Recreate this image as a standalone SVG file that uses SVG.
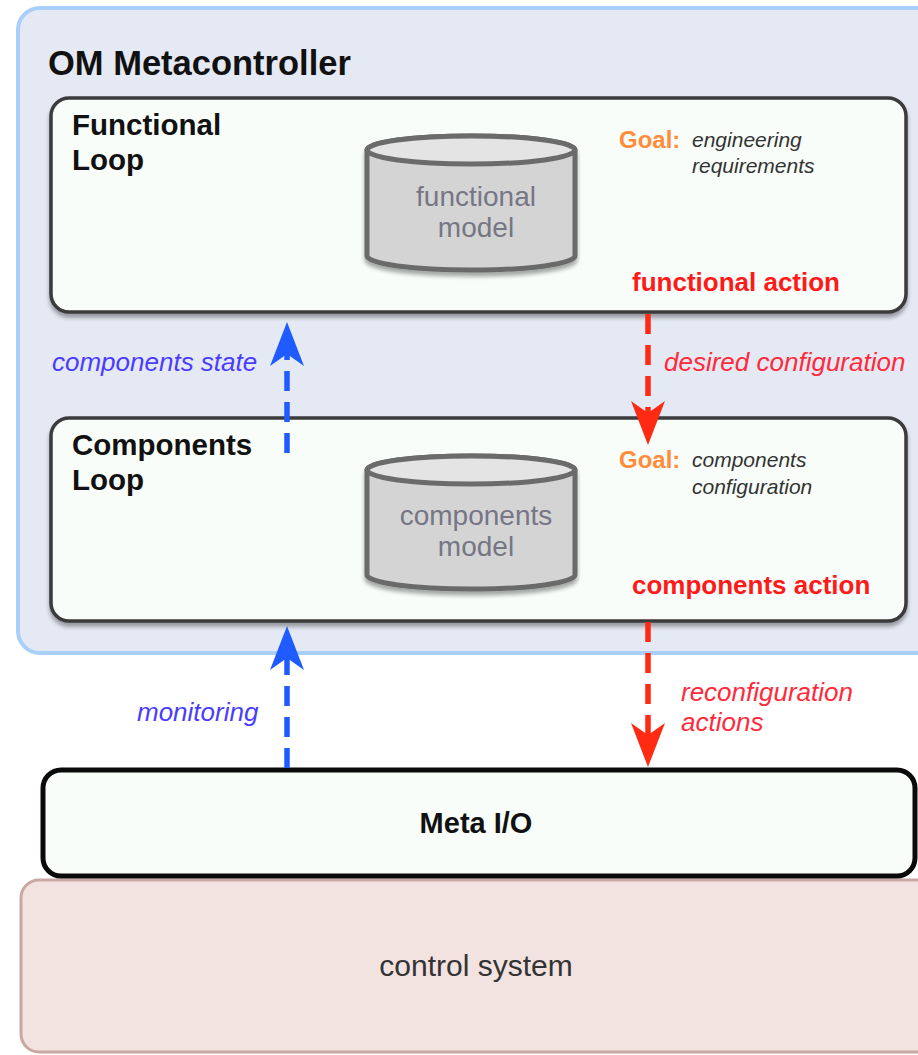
<svg xmlns="http://www.w3.org/2000/svg" width="918" height="1055" viewBox="0 0 918 1055">
  <defs>
    <filter id="shadow" x="-5%" y="-5%" width="110%" height="120%">
      <feGaussianBlur in="SourceAlpha" stdDeviation="2"/>
      <feOffset dx="0" dy="4" result="o"/>
      <feComponentTransfer><feFuncA type="linear" slope="0.35"/></feComponentTransfer>
      <feMerge><feMergeNode/><feMergeNode in="SourceGraphic"/></feMerge>
    </filter>
    <!-- notched arrowheads, drawn pointing along +x so orient="auto" follows the line -->
    <marker id="headBlue" viewBox="0 0 44 34" refX="14" refY="17" markerWidth="44" markerHeight="34" markerUnits="userSpaceOnUse" orient="auto">
      <path d="M44 17 L0 0 L12 17 L0 34 Z" fill="#1f5bff"/>
    </marker>
    <marker id="headRed" viewBox="0 0 44 34" refX="14" refY="17" markerWidth="44" markerHeight="34" markerUnits="userSpaceOnUse" orient="auto">
      <path d="M44 17 L0 0 L12 17 L0 34 Z" fill="#ff2a12"/>
    </marker>
  </defs>
  <style>
    .loop { fill: #f8fdf9; stroke: #3a3a3a; stroke-width: 3.5; }
    .title { font-family: "Liberation Sans", Arial, sans-serif; font-weight: bold; fill: #111; }
    .cyl { fill: #d4d4d4; stroke: #6b6b6b; stroke-width: 5; }
    .cyltxt { font-family: "Liberation Sans", Arial, sans-serif; font-size: 28px; fill: #767684; text-anchor: middle; }
    .goal { font-family: "Liberation Sans", Arial, sans-serif; font-weight: bold; font-size: 24px; fill: #ff8c3a; }
    .goaltxt { font-family: "Liberation Sans", Arial, sans-serif; font-style: italic; font-size: 21px; fill: #333; }
    .action { font-family: "Liberation Sans", Arial, sans-serif; font-weight: bold; font-size: 26px; fill: #ff1a1a; }
    .lblBlue { font-family: "Liberation Sans", Arial, sans-serif; font-style: italic; font-size: 26px; fill: #4a3cff; }
    .lblRed { font-family: "Liberation Sans", Arial, sans-serif; font-style: italic; font-size: 26px; fill: #ff2a3a; }
    .up { stroke: #1f5bff; stroke-width: 5.5; stroke-dasharray: 20 11; fill: none; }
    .down { stroke: #ff2a12; stroke-width: 5.5; stroke-dasharray: 20 11; fill: none; }
  </style>

  <!-- control system layer -->
  <g id="control-system">
    <rect x="21" y="880" width="920" height="172" rx="18" fill="#f2e2e0" stroke="#c9a8a4" stroke-width="3"/>
    <text x="476" y="976" font-family="'Liberation Sans', Arial, sans-serif" font-size="30" fill="#333" text-anchor="middle">control system</text>
  </g>

  <!-- metacontroller container -->
  <g id="om-metacontroller">
    <rect x="18" y="8" width="920" height="645" rx="22" fill="#e5e9f4" stroke="#a8d0fa" stroke-width="4"/>
    <text class="title" x="48" y="75" font-size="34.5">OM Metacontroller</text>
  </g>

  <!-- functional loop -->
  <g id="functional-loop">
    <rect class="loop" x="51" y="98" width="855" height="214" rx="18" filter="url(#shadow)"/>
    <text class="title" x="72" y="135" font-size="29.5">Functional</text>
    <text class="title" x="72" y="170" font-size="29.5">Loop</text>
    <text class="goal" x="619" y="148">Goal:</text>
    <text class="goaltxt" x="692" y="147">engineering</text>
    <text class="goaltxt" x="692" y="173">requirements</text>
    <text class="action" x="632" y="291">functional action</text>
  </g>

  <g id="functional-model">
    <path class="cyl" d="M367 150 A104 14 0 0 1 575 150 L575 256 A104 14 0 0 1 367 256 Z" filter="url(#shadow)"/>
    <ellipse cx="471" cy="150" rx="104" ry="14" fill="#e4e4e4" stroke="#6b6b6b" stroke-width="5"/>
    <text class="cyltxt" x="476" y="206">functional</text>
    <text class="cyltxt" x="476" y="237">model</text>
  </g>

  <!-- components loop -->
  <g id="components-loop">
    <rect class="loop" x="51" y="418" width="855" height="203" rx="18" filter="url(#shadow)"/>
    <text class="title" x="72" y="455" font-size="29.5">Components</text>
    <text class="title" x="72" y="490" font-size="29.5">Loop</text>
    <text class="goal" x="619" y="468">Goal:</text>
    <text class="goaltxt" x="692" y="467">components</text>
    <text class="goaltxt" x="692" y="494">configuration</text>
    <text class="action" x="632" y="594">components action</text>
  </g>

  <g id="components-model">
    <path class="cyl" d="M367 470 A104 14 0 0 1 575 470 L575 575 A104 14 0 0 1 367 575 Z" filter="url(#shadow)"/>
    <ellipse cx="471" cy="470" rx="104" ry="14" fill="#e4e4e4" stroke="#6b6b6b" stroke-width="5"/>
    <text class="cyltxt" x="476" y="525">components</text>
    <text class="cyltxt" x="476" y="556">model</text>
  </g>

  <!-- meta i/o -->
  <g id="meta-io">
    <rect x="43" y="770" width="872" height="106" rx="18" fill="#f8fdf9" stroke="#0a0a0a" stroke-width="5"/>
    <text class="title" x="476" y="833" font-size="29" text-anchor="middle">Meta I/O</text>
  </g>

  <!-- connectors -->
  <g id="connectors">
    <line class="up" x1="287" y1="453" x2="287" y2="352" marker-end="url(#headBlue)"/>
    <line class="down" x1="648" y1="314" x2="648" y2="415" marker-end="url(#headRed)"/>
    <line class="up" x1="287" y1="768" x2="287" y2="656" marker-end="url(#headBlue)"/>
    <line class="down" x1="648" y1="622" x2="648" y2="737" marker-end="url(#headRed)"/>
    <text class="lblBlue" x="52" y="371">components state</text>
    <text class="lblRed" x="664" y="371">desired configuration</text>
    <text class="lblBlue" x="137" y="721">monitoring</text>
    <text class="lblRed" x="681" y="701">reconfiguration</text>
    <text class="lblRed" x="681" y="731">actions</text>
  </g>
</svg>
